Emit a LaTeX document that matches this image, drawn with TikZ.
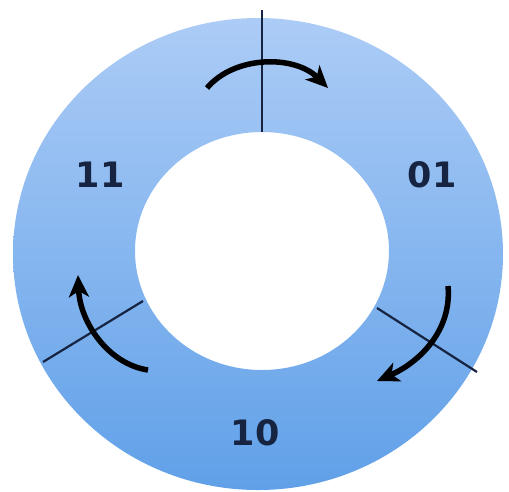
\documentclass[tikz,border=0pt]{standalone}
\usepackage{fontspec}
\setmainfont{DejaVu Sans}
\usepackage{tikz}
\usetikzlibrary{arrows.meta}
\definecolor{ringtop}{RGB}{172,204,246}
\definecolor{ringbot}{RGB}{96,160,232}
\definecolor{navy}{RGB}{22,36,66}

\begin{document}
\begin{tikzpicture}[x=1pt, y=-1pt,
    divider/.style={draw=navy, line width=2.2pt},
    turn/.style={-{Stealth[length=22pt,width=20pt,inset=6pt]}, line width=5.5pt, black},
    state/.style={text=navy, font=\fontsize{35}{38}\selectfont\bfseries}]
    \useasboundingbox (0,0) rectangle (509,491);

    % ring
    \coordinate (c) at (258,254);
    \coordinate (h) at (262,251);
    \shade[top color=ringtop, bottom color=ringbot, even odd rule]
      (c) ellipse (245 and 236) (h) ellipse (127 and 119);

    % dividers
    \coordinate (t1) at (262,10);   \coordinate (t2) at (262,132);
    \coordinate (l1) at (143,301);  \coordinate (l2) at (43,362);
    \coordinate (r1) at (377,308);  \coordinate (r2) at (477,372);
    \draw[divider] (t1) -- (t2);
    \draw[divider] (l1) -- (l2);
    \draw[divider] (r1) -- (r2);

    % states
    \node[state] (s11) at (100,175) {11};
    \node[state] (s01) at (432,175) {01};
    \node[state] (s10) at (255,433) {10};

    % transitions
    \coordinate (a1) at (207,88);   \coordinate (b1) at (328,88);
    \coordinate (a2) at (448,286);  \coordinate (b2) at (377,381);
    \coordinate (a3) at (148,370);  \coordinate (b3) at (78,275);
    \draw[turn] (a1) .. controls (235,55) and (295,55) .. (b1);
    \draw[turn] (a2) .. controls (452,330) and (420,362) .. (b2);
    \draw[turn] (a3) .. controls (108,364) and (80,322) .. (b3);
\end{tikzpicture}
\end{document}
